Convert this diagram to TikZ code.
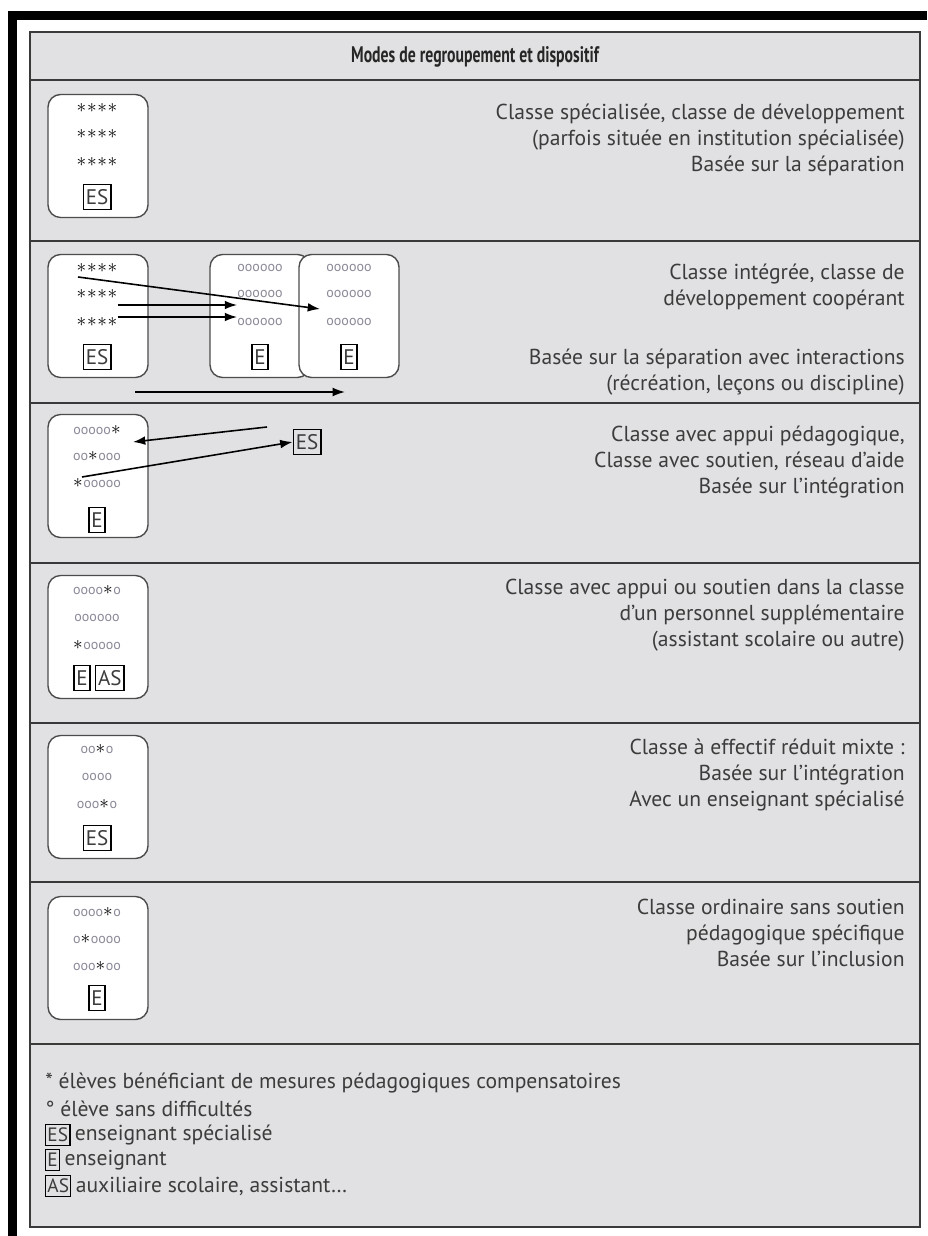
\documentclass[tikz,border=0pt]{standalone}
\usepackage{fontspec}
\usepackage{graphicx}
\setmainfont{PT Sans}
\usetikzlibrary{positioning,arrows.meta}
\definecolor{cellgray}{HTML}{E1E1E3}
\definecolor{rulegray}{HTML}{3A3A3A}
\definecolor{inkgray}{HTML}{3C3C3C}
\definecolor{kidgray}{HTML}{8A8A98}
\newcommand{\etoile}{\textcolor{black}{\fontsize{11}{11}\selectfont$\ast$}\hspace{0.4pt}}
\tikzset{
  classbox/.style={draw=black!70, fill=white, rounded corners=0.25cm, minimum width=2cm, minimum height=2.46cm, line width=0.8pt},
  tag/.style={draw=black, line width=0.9pt, inner sep=1.4pt, minimum height=0.5cm, font=\fontsize{12}{12}\selectfont, text=inkgray},
  smalltag/.style={draw=black, line width=0.8pt, inner sep=1pt, minimum height=0.42cm, anchor=west, font=\fontsize{11}{11}\selectfont, text=inkgray},
  kids/.style={inner sep=0pt, font=\fontsize{8}{8}\selectfont, text=kidgray},
  desc/.style={anchor=north east, align=right, inner sep=0pt, font=\fontsize{12.3}{14.7}\selectfont, text=inkgray},
  legend/.style={anchor=west, inner sep=0pt, font=\fontsize{12.3}{14.7}\selectfont, text=inkgray},
}
\begin{document}
\begin{tikzpicture}[x=0.02cm, y=-0.02cm, >={Latex[length=7pt,width=5pt]}]
\useasboundingbox (0,0) rectangle (927,1236);
% frame
\fill[black] (8,11) rectangle (927,20);
\fill[black] (8,11) rectangle (17,1236);
\filldraw[fill=cellgray, draw=rulegray, line width=1pt] (30,32) rectangle (920,1227);
\draw[rulegray, line width=1pt] (30,80) -- (920,80);
\foreach \y in {241,403,563,723,882,1044}
  \draw[rulegray, line width=1pt] (30,\y) -- (920,\y);
\node[font=\bfseries\fontsize{12.8}{12.8}\selectfont, text=black!85] (titre) at (475,57) {\scalebox{0.7}[1]{Modes de regroupement et dispositif}};

% classe specialisee
\node[classbox] (c1) at (98,156) {};
\node[kids] (k1a) at (97,108) {\etoile\etoile\etoile\etoile};
\node[kids] (k1b) at (97,134) {\etoile\etoile\etoile\etoile};
\node[kids] (k1c) at (97,162) {\etoile\etoile\etoile\etoile};
\node[tag] (t1) at (97,197) {ES};
\node[desc] (d1) at (905,104) {Classe spécialisée, classe de développement\\(parfois située en institution spécialisée)\\Basée sur la séparation};

% classe integree
\node[classbox] (c2) at (98,316) {};
\node[classbox] (c2b) at (260,316) {};
\node[classbox] (c2c) at (349,316) {};
\node[kids] (k2a) at (97,268) {\etoile\etoile\etoile\etoile};
\node[kids] (k2b) at (97,294) {\etoile\etoile\etoile\etoile};
\node[kids] (k2c) at (97,322) {\etoile\etoile\etoile\etoile};
\node[tag] (t2) at (97,357) {ES};
\node[kids] (k2d) at (260,268) {oooooo};
\node[kids] (k2e) at (260,294) {oooooo};
\node[kids] (k2f) at (260,322) {oooooo};
\node[tag] (t2b) at (260,357) {E};
\node[kids] (k2g) at (349,268) {oooooo};
\node[kids] (k2h) at (349,294) {oooooo};
\node[kids] (k2i) at (349,322) {oooooo};
\node[tag] (t2c) at (349,357) {E};
\coordinate (a2s) at (78,277);
\coordinate (a2e) at (320,309);
\draw[->, line width=0.9pt] (a2s) -- (a2e);
\draw[->, line width=0.9pt] (k2b.east |- 0,305) -- (k2e.west |- 0,305);
\draw[->, line width=0.9pt] (k2c.east |- 0,317) -- (k2f.west |- 0,317);
\coordinate (a2f) at (135,392);
\coordinate (a2g) at (345,392);
\draw[->, line width=0.9pt] (a2f) -- (a2g);
\node[desc] (d2) at (905,264) {Classe intégrée, classe de\\développement coopérant};
\node[desc] (d2b) at (905,349) {Basée sur la séparation avec interactions\\(récréation, leçons ou discipline)};

% appui pedagogique
\node[classbox] (c3) at (98,476) {};
\node[kids] (k3a) at (97,430) {ooooo\etoile};
\node[kids] (k3b) at (97,456) {oo\etoile ooo};
\node[kids] (k3c) at (97,483) {\etoile ooooo};
\node[tag] (t3) at (97,520) {E};
\node[tag] (t3es) at (307,442) {ES};
\coordinate (a3s) at (267,427);
\coordinate (a3e) at (133,442);
\coordinate (a3f) at (82,477);
\draw[->, line width=0.9pt] (a3s) -- (a3e);
\draw[->, line width=0.9pt] (a3f) -- (t3es.west);
\node[desc] (d3) at (905,426) {Classe avec appui pédagogique,\\Classe avec soutien, réseau d’aide\\Basée sur l’intégration};

% personnel supplementaire
\node[classbox] (c4) at (98,637) {};
\node[kids] (k4a) at (97,590) {oooo\etoile o};
\node[kids] (k4b) at (97,618) {oooooo};
\node[kids] (k4c) at (97,645) {\etoile ooooo};
\node[tag] (t4) at (82,678) {E};
\node[tag, right=0.08cm of t4] (t4as) {AS};
\node[desc] (d4) at (905,579) {Classe avec appui ou soutien dans la classe\\d’un personnel supplémentaire\\(assistant scolaire ou autre)};

% effectif reduit
\node[classbox] (c5) at (98,797) {};
\node[kids] (k5a) at (97,749) {oo\etoile o};
\node[kids] (k5b) at (97,777) {oooo};
\node[kids] (k5c) at (97,804) {ooo\etoile o};
\node[tag] (t5) at (97,838) {ES};
\node[desc] (d5) at (905,739) {Classe à effectif réduit mixte :\\Basée sur l’intégration\\Avec un enseignant spécialisé};

% classe ordinaire
\node[classbox] (c6) at (98,958) {};
\node[kids] (k6a) at (97,912) {oooo\etoile o};
\node[kids] (k6b) at (97,939) {o\etoile oooo};
\node[kids] (k6c) at (97,966) {ooo\etoile oo};
\node[tag] (t6) at (97,998) {E};
\node[desc] (d6) at (905,899) {Classe ordinaire sans soutien\\pédagogique spécifique\\Basée sur l’inclusion};

% legende
\node[legend] (l1) at (45,1083) {* élèves bénéficiant de mesures pédagogiques compensatoires};
\node[legend] (l2) at (45,1109) {° élève sans difficultés};
\node[smalltag] (l3t) at (45,1135) {ES};
\node[legend, right=0.08cm of l3t] (l3) {enseignant spécialisé};
\node[smalltag] (l4t) at (45,1160) {E};
\node[legend, right=0.08cm of l4t] (l4) {enseignant};
\node[smalltag] (l5t) at (45,1186) {AS};
\node[legend, right=0.08cm of l5t] (l5) {auxiliaire scolaire, assistant…};
\end{tikzpicture}
\end{document}
